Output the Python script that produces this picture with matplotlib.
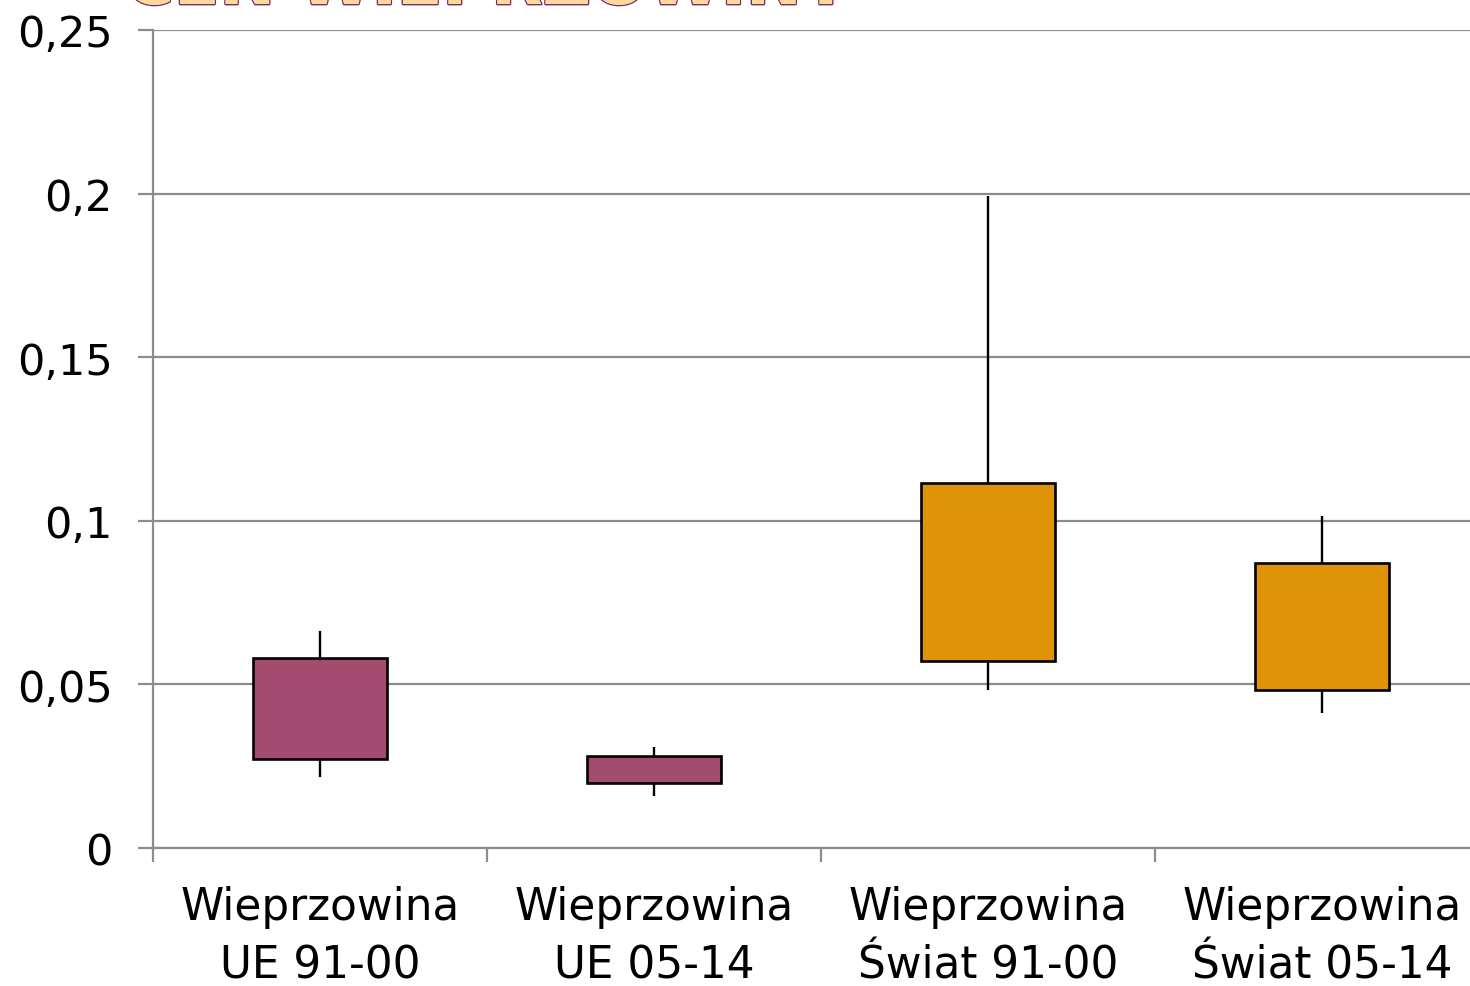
import matplotlib.pyplot as plt
import matplotlib.patheffects as pe
from matplotlib.ticker import FixedLocator, FuncFormatter

# dane ========================================================================
kategorie = ["Wieprzowina\nUE 91-00", "Wieprzowina\nUE 05-14",
             "Wieprzowina\nŚwiat 91-00", "Wieprzowina\nŚwiat 05-14"]
box_dol = [0.0272, 0.0199, 0.0572, 0.0483]
box_gora = [0.0581, 0.0281, 0.1116, 0.0871]
wasy_dol = [0.0217, 0.0159, 0.0483, 0.0413]
wasy_gora = [0.0663, 0.0309, 0.1993, 0.1015]
kolory = ["#A34C6F", "#A34C6F", "#DF9308", "#DF9308"]

# wykres ======================================================================
plt.rcParams['font.family'] = ['DejaVu Sans']
fig = plt.figure(figsize=(14.7, 9.87), dpi=100)
ax = fig.add_axes([153 / 1470, 138 / 987, 4 * 334 / 1470, 818 / 987])

x = range(len(kategorie))
ax.vlines(x, wasy_dol, wasy_gora, color='black', lw=1.7, zorder=2)
wys = [g - d for g, d in zip(box_gora, box_dol)]
ax.bar(x, wys, bottom=box_dol, width=0.4, color=kolory,
       edgecolor='black', linewidth=1.9, zorder=3)

ax.set_xlim(-0.5, 3.5)
ax.set_ylim(0, 0.25)
ax.set_yticks([0, 0.05, 0.1, 0.15, 0.2, 0.25])
ax.yaxis.set_major_formatter(FuncFormatter(lambda v, p: f"{v:g}".replace('.', ',')))
ax.grid(axis='y', color='#8C8C8C', lw=1.6, zorder=0)
ax.set_axisbelow(True)

ax.set_xticks(list(x))
ax.set_xticklabels(kategorie, linespacing=1.45)
ax.xaxis.set_minor_locator(FixedLocator([-0.5, 0.5, 1.5, 2.5, 3.5]))
ax.tick_params(axis='x', which='major', length=0, pad=27, labelsize=31.5)
ax.tick_params(axis='x', which='minor', length=10, width=1.6, color='#8C8C8C')
ax.tick_params(axis='y', length=11, width=1.6, color='#8C8C8C', pad=18, labelsize=31)

for s in ['top', 'right']:
    ax.spines[s].set_visible(False)
for s in ['left', 'bottom']:
    ax.spines[s].set_color('#8C8C8C')
    ax.spines[s].set_linewidth(1.6)

# tytuł (ucięty u góry, jak w oryginale)
t = fig.text(125 / 1470, 1 - 5 / 987, "CEN WIEPRZOWINY", fontsize=48,
             fontweight='bold', color='#FBD89C', va='baseline', ha='left')
t.set_path_effects([pe.withStroke(linewidth=2, foreground='#7B2A6A'), pe.Normal()])

fig.savefig("out.png", dpi=100)
